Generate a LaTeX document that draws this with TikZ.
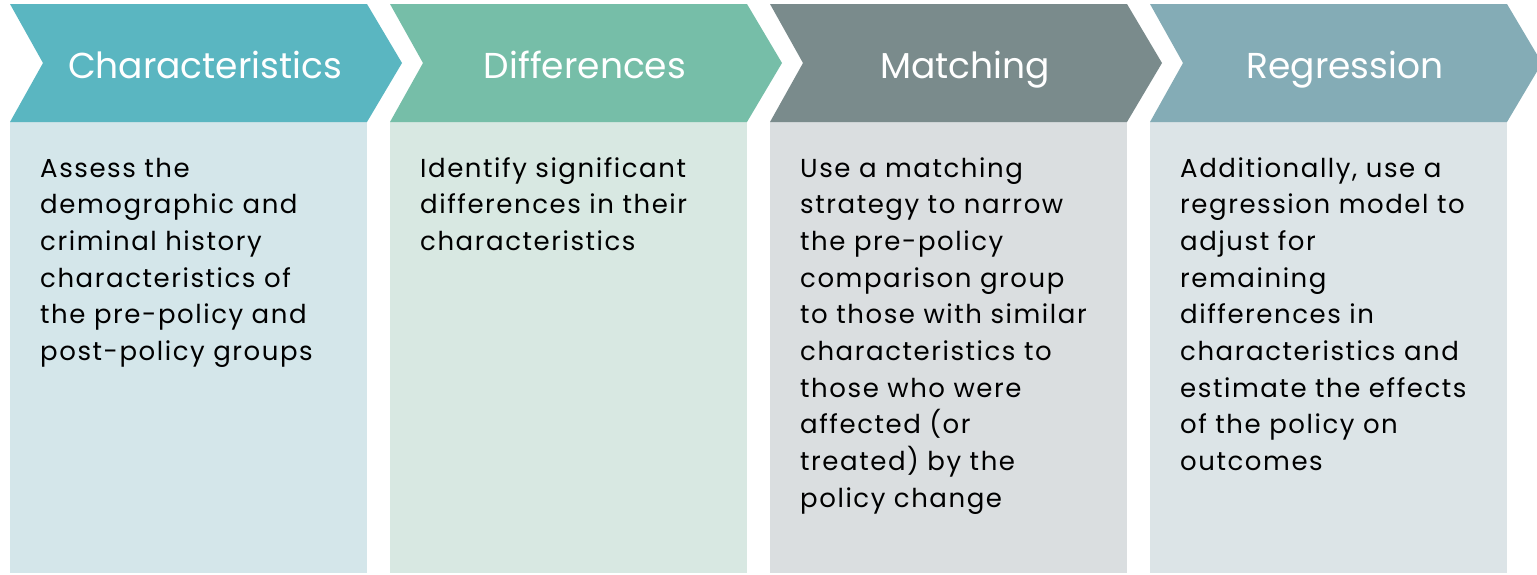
\documentclass[tikz,border=0pt]{standalone}
\usepackage{fontspec}
\setmainfont{Poppins}
\newfontfamily\bodyfont[LetterSpace=6]{Poppins}
\definecolor{chA}{HTML}{5AB6C1}
\definecolor{bxA}{HTML}{D4E6EA}
\definecolor{chB}{HTML}{76BEA8}
\definecolor{bxB}{HTML}{D8E8E2}
\definecolor{chC}{HTML}{7A8B8C}
\definecolor{bxC}{HTML}{DADEE0}
\definecolor{chD}{HTML}{84ACB6}
\definecolor{bxD}{HTML}{DCE4E7}
\tikzset{
  titletext/.style={anchor=base, inner sep=0pt, text=white, font=\fontsize{36}{44}\selectfont},
  bodytext/.style={anchor=base west, inner sep=0pt, text=black, font=\bodyfont\fontsize{26}{36.7}\selectfont},
}
\newcommand{\bodypar}[1]{\parbox[t]{340pt}{\raggedright #1}}
\begin{document}
\begin{tikzpicture}[x=1pt,y=-1pt]
\useasboundingbox (0,0) rectangle (1537,574);
\foreach \x/\c/\b in {10/chA/bxA, 390/chB/bxB, 770/chC/bxC, 1150/chD/bxD}{
  \fill[\b] (\x,122) rectangle (\x+357,573);
  \fill[\c] (\x,4) -- (\x+357,4) -- (\x+392,63) -- (\x+357,122) -- (\x,122) -- (\x+33,63) -- cycle;
}
\node[titletext] (t1) at (205,78) {Characteristics};
\node[titletext] (t2) at (585,78) {Differences};
\node[titletext] (t3) at (965,78) {Matching};
\node[titletext] (t4) at (1345,78) {Regression};
\node[bodytext] (b1) at (40,177) {\bodypar{Assess the\\ demographic and\\ criminal history\\ characteristics of\\ the pre-policy and\\ post-policy groups}};
\node[bodytext] (b2) at (420,177) {\bodypar{Identify significant\\ differences in their\\ characteristics}};
\node[bodytext] (b3) at (800,177) {\bodypar{Use a matching\\ strategy to narrow\\ the pre-policy\\ comparison group\\ to those with similar\\ characteristics to\\ those who were\\ affected (or\\ treated) by the\\ policy change}};
\node[bodytext] (b4) at (1180,177) {\bodypar{Additionally, use a\\ regression model to\\ adjust for\\ remaining\\ differences in\\ characteristics and\\ estimate the effects\\ of the policy on\\ outcomes}};
\end{tikzpicture}
\end{document}
